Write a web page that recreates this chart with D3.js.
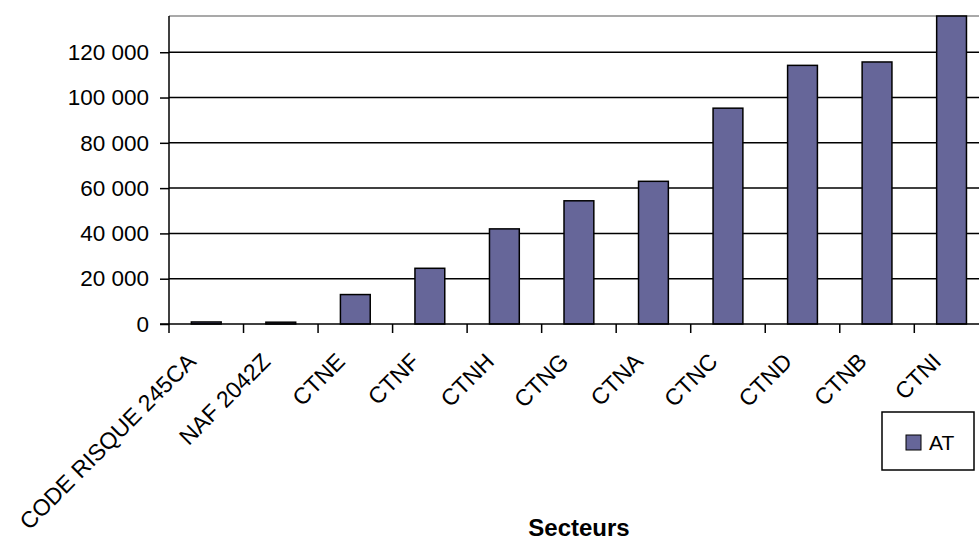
<!DOCTYPE html>
<html>
<head>
<meta charset="utf-8">
<script src="https://cdn.jsdelivr.net/npm/d3@7"></script>
<style>
  html, body { margin: 0; padding: 0; background: #fff; }
  svg { display: block; font-family: "Liberation Sans", Arial, sans-serif; }
</style>
</head>
<body>
<svg id="chart" width="979" height="540"></svg>
<script>
// Sectors and their AT counts
const categories = ["CODE RISQUE 245CA", "NAF 2042Z", "CTNE", "CTNF", "CTNH", "CTNG", "CTNA", "CTNC", "CTND", "CTNB", "CTNI"];
const atValues = [900, 800, 13000, 24600, 42000, 54400, 63000, 95300, 114200, 115700, 136000];
const yTicks = [0, 20000, 40000, 60000, 80000, 100000, 120000];
const seriesName = "AT";
const axisTitle = "Secteurs";

const svg = d3.select("#chart");
const plotLeft = 169, plotTop = 16, plotBottom = 324;
const step = 74.53;
const plotRight = plotLeft + step * categories.length;

const fr = d3.formatLocale({ decimal: ",", thousands: " ", grouping: [3], currency: ["", " €"] });
const fmt = fr.format(",");

const x = d3.scaleBand()
  .domain(categories)
  .range([plotLeft, plotRight])
  .paddingInner(0.6)
  .paddingOuter(0.3);

const y = d3.scaleLinear()
  .domain([0, 136000])
  .range([plotBottom, plotTop]);

// plot area top border
svg.append("line")
  .attr("x1", plotLeft).attr("x2", plotRight)
  .attr("y1", y(136000)).attr("y2", y(136000))
  .attr("stroke", "#8c8c8c").attr("stroke-width", 1.5);

// horizontal gridlines
svg.append("g").selectAll("line")
  .data(yTicks.filter(d => d > 0))
  .join("line")
  .attr("x1", plotLeft).attr("x2", plotRight)
  .attr("y1", d => y(d)).attr("y2", d => y(d))
  .attr("stroke", "#000").attr("stroke-width", 1.5);

// bars
svg.append("g").selectAll("rect")
  .data(categories)
  .join("rect")
  .attr("x", d => x(d))
  .attr("width", x.bandwidth())
  .attr("y", (d, i) => y(atValues[i]))
  .attr("height", (d, i) => y(0) - y(atValues[i]))
  .attr("fill", "#666699")
  .attr("stroke", "#000")
  .attr("stroke-width", 1.5);

// y axis
const yAxis = d3.axisLeft(y)
  .tickValues(yTicks)
  .tickFormat(fmt)
  .tickSize(9)
  .tickPadding(11);
const gy = svg.append("g")
  .attr("transform", `translate(${plotLeft},0)`)
  .call(yAxis);
gy.select(".domain").remove();
gy.selectAll(".tick line").attr("stroke", "#000").attr("stroke-width", 1.5);
gy.selectAll(".tick text")
  .attr("font-size", 22.5)
  .attr("font-family", "Liberation Sans, Arial, sans-serif")
  .attr("fill", "#000");
svg.append("line")
  .attr("x1", plotLeft).attr("x2", plotLeft)
  .attr("y1", plotTop).attr("y2", plotBottom)
  .attr("stroke", "#000").attr("stroke-width", 1.5);

// x axis baseline and boundary ticks
svg.append("line")
  .attr("x1", plotLeft - 9).attr("x2", plotRight)
  .attr("y1", y(0)).attr("y2", y(0))
  .attr("stroke", "#000").attr("stroke-width", 1.5);
svg.append("g").selectAll("line")
  .data(d3.range(categories.length + 1))
  .join("line")
  .attr("x1", i => plotLeft + i * x.step())
  .attr("x2", i => plotLeft + i * x.step())
  .attr("y1", y(0)).attr("y2", y(0) + 9)
  .attr("stroke", "#000").attr("stroke-width", 1.5);

// rotated category labels
svg.append("g").selectAll("text")
  .data(categories)
  .join("text")
  .attr("transform", d => `translate(${x(d) + x.bandwidth() / 2 - 9},${y(0) + 39}) rotate(-45)`)
  .attr("text-anchor", "end")
  .attr("font-size", 23)
  .attr("fill", "#000")
  .text(d => d);

// axis title
svg.append("text")
  .attr("x", 579).attr("y", 536)
  .attr("text-anchor", "middle")
  .attr("font-size", 24)
  .attr("font-weight", "bold")
  .attr("fill", "#000")
  .text(axisTitle);

// legend
const lg = svg.append("g");
lg.append("rect")
  .attr("x", 882).attr("y", 412).attr("width", 92).attr("height", 58)
  .attr("fill", "#fff").attr("stroke", "#000").attr("stroke-width", 1.5);
lg.append("rect")
  .attr("x", 906).attr("y", 435).attr("width", 15).attr("height", 15)
  .attr("fill", "#666699").attr("stroke", "#000").attr("stroke-width", 1);
lg.append("text")
  .attr("x", 929).attr("y", 450)
  .attr("font-size", 21)
  .attr("fill", "#000")
  .text(seriesName);
</script>
</body>
</html>
